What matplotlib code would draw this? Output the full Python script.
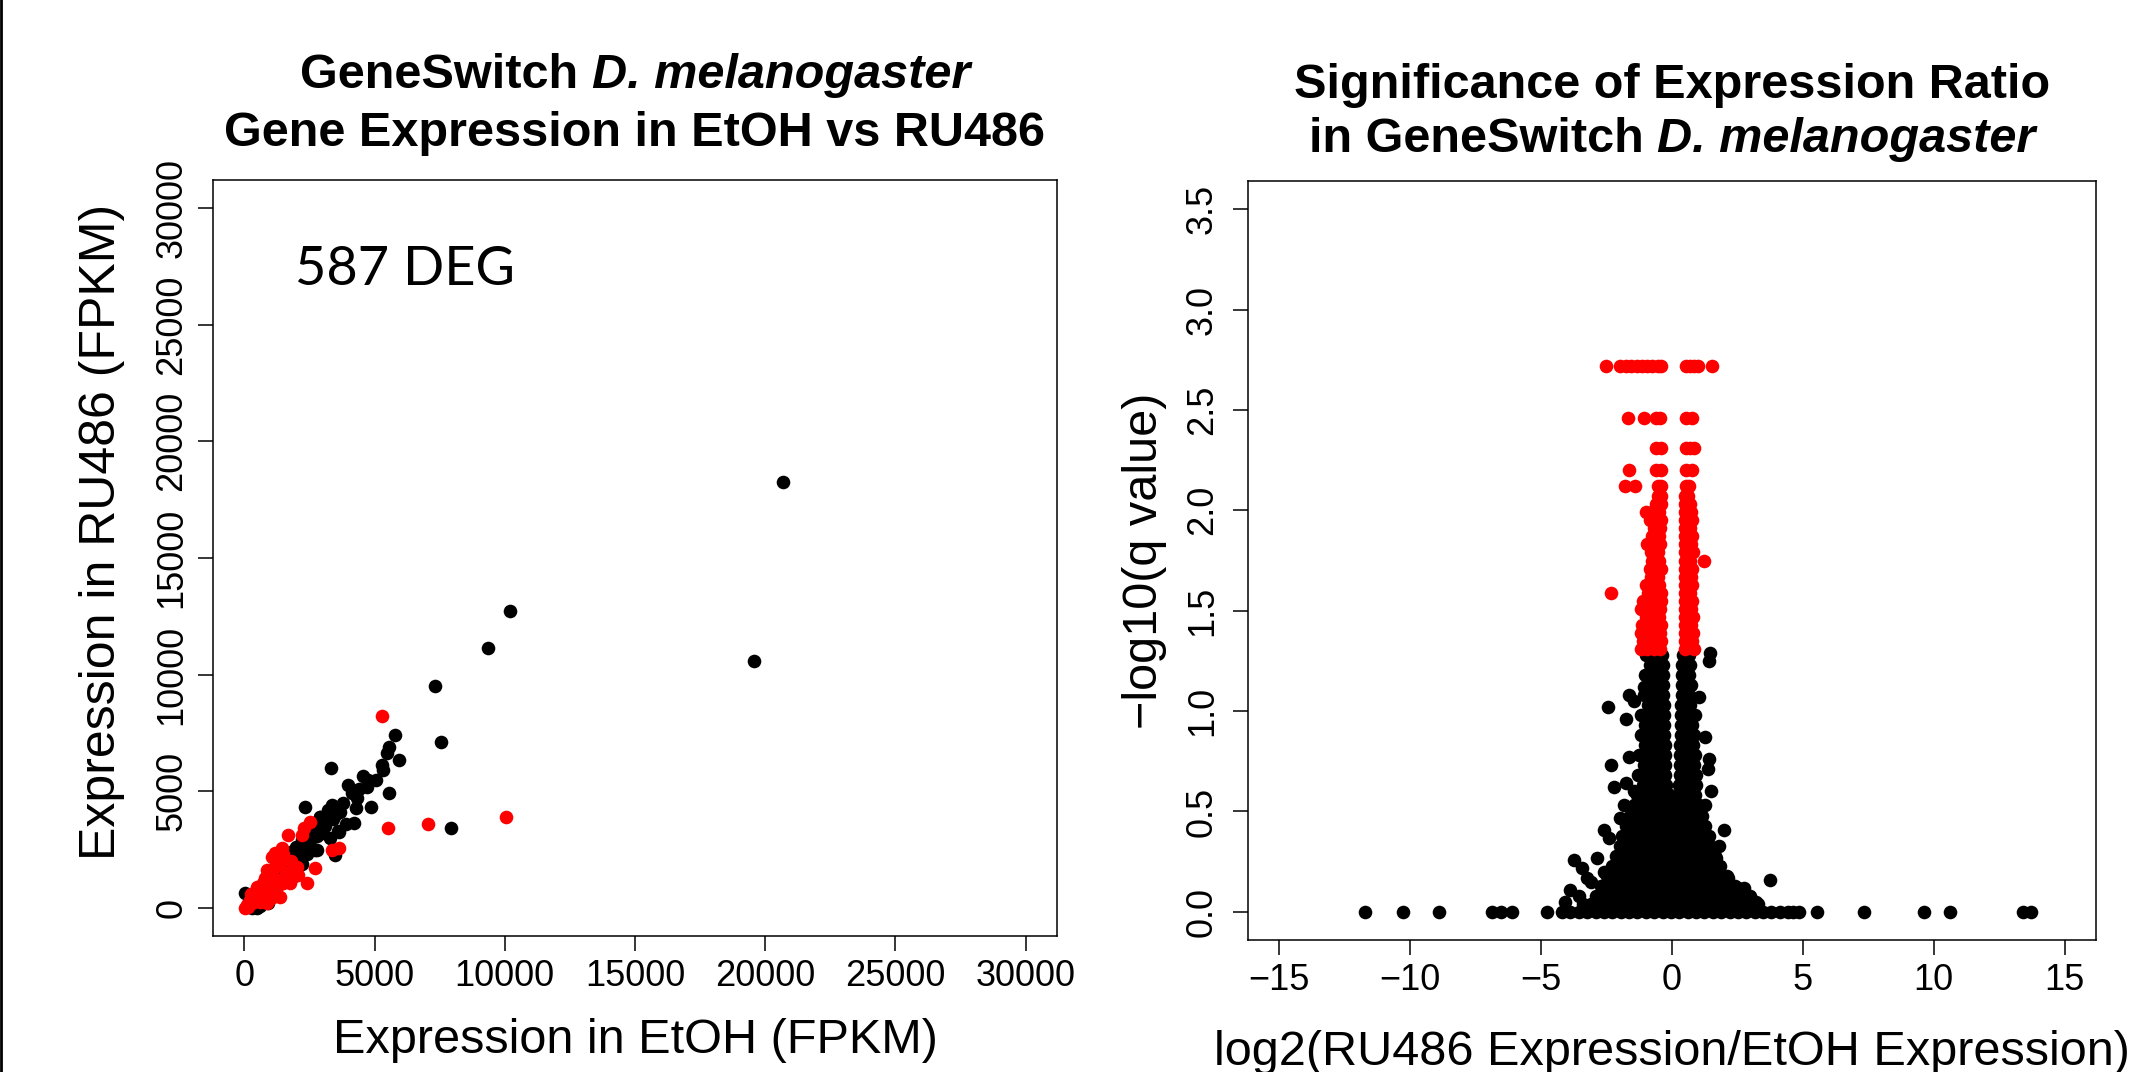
import matplotlib
matplotlib.use('Agg')
import matplotlib.pyplot as plt
from matplotlib.lines import Line2D

plt.rcParams['font.family'] = ['Liberation Sans', 'DejaVu Sans']

# ---- left panel: FPKM in EtOH vs RU486 (x, y) ----
left_black = [
    (20700, 18250), (19560, 10570), (10200, 12730), (9340, 11160), (7330, 9520),
    (7550, 7100), (7935, 3410), (5785, 7415), (5555, 6914), (5466, 6631),
    (5939, 6344), (5274, 6129), (5313, 5915), (3317, 5987), (4568, 5658),
    (5044, 5486), (4699, 5200), (3993, 5272), (4123, 4916), (4315, 4702),
    (5555, 4916), (4276, 4273), (4852, 4316), (2342, 4316), (3355, 4415),
    (3674, 4128), (4223, 3657), (3647, 3270), (3800, 4500), (3500, 4000),
    (3100, 3700), (4400, 5100), (4750, 5500), (2900, 3900), (3200, 4200),
    (2700, 3400), (3000, 3200), (3300, 3000), (3480, 2270), (2776, 2486),
    (2906, 3914), (2600, 3600), (2400, 3300), (2200, 2900), (2000, 2600),
    (1800, 2400), (1600, 2100), (1400, 1800), (1200, 1500), (1000, 1200),
    (800, 1000), (600, 800), (400, 500), (200, 300), (100, 100), (300, 0),
    (600, 100), (900, 200), (500, 0), (20, 650), (2500, 2800), (2800, 3100),
    (3100, 3500), (2300, 2500), (2100, 2200), (1900, 2000), (3400, 3800),
    (3600, 3300), (3900, 3600), (2650, 2550), (700, 300), (2400, 2300),
    (2700, 2500), (2200, 1900), (1900, 1600),
]
left_red = [
    (5274, 8230), (5528, 3442), (7040, 3586), (10046, 3900), (2522, 3700),
    (2300, 3450), (2202, 3129), (1689, 3129), (1435, 2559), (1179, 2345),
    (3355, 2486), (3647, 2559), (2714, 1702), (2395, 1059), (1881, 1342),
    (2073, 1414), (859, 1629), (987, 1343), (731, 1057), (603, 771),
    (475, 486), (219, 343), (91, 129), (20, 0), (1243, 914), (1499, 1057),
    (1115, 486), (859, 200), (1627, 1200), (603, 271), (1371, 1914),
    (1051, 2200), (2011, 1771), (1755, 1057), (1371, 486), (400, 700),
    (700, 500), (1000, 800), (300, 200), (150, 50), (500, 900), (1300, 1200),
    (800, 1300), (1600, 1500), (1150, 1700), (1800, 2000), (950, 350),
    (250, 600), (1250, 1900), (1500, 2300),
]
deg_count = 587

# ---- right panel: volcano, log2 ratio vs -log10(q) ----
# dense non-significant core, one row per -log10(q) level
core_rows = [
    (1.28, [-1.00, -0.68, -0.37, 0.41, 0.65]),
    (1.23, [-0.85, -0.55, -0.36, 0.40, 0.70]),
    (1.18, [-1.02, -0.70, -0.35, 0.39, 0.66]),
    (1.13, [-0.88, -0.58, -0.34, 0.38, 0.72]),
    (1.08, [-1.08, -0.76, -0.45, -0.33, 0.37, 0.64]),
    (1.03, [-0.92, -0.62, -0.32, 0.36, 0.70]),
    (0.98, [-1.18, -0.86, -0.56, -0.31, 0.35, 0.62, 0.80]),
    (0.93, [-1.02, -0.70, -0.30, 0.34, 0.58, 0.78]),
    (0.88, [-1.20, -0.88, -0.57, -0.29, 0.33, 0.62, 0.84]),
    (0.83, [-1.05, -0.74, -0.45, -0.28, 0.32, 0.55, 0.82]),
    (0.78, [-1.25, -0.92, -0.60, -0.27, 0.31, 0.60, 0.88]),
    (0.73, [-1.08, -0.78, -0.48, -0.26, 0.30, 0.56, 0.85]),
    (0.68, [-1.28, -0.96, -0.64, -0.25, 0.29, 0.60, 0.92]),
    (0.63, [-1.12, -0.80, -0.50, -0.24, 0.28, 0.55, 0.90]),
    (0.58, [-1.35, -1.03, -0.71, -0.39, -0.07, 0.25, 0.57, 0.89]),
    (0.53, [-1.45, -1.15, -0.85, -0.55, -0.23, 0.09, 0.41, 0.73, 1.05]),
    (0.48, [-1.60, -1.28, -0.96, -0.64, -0.32, 0.00, 0.32, 0.64, 0.96, 1.15]),
    (0.43, [-1.75, -1.43, -1.11, -0.79, -0.47, -0.15, 0.17, 0.49, 0.81, 1.13, 1.25]),
    (0.38, [-1.90, -1.58, -1.26, -0.94, -0.62, -0.30, 0.02, 0.34, 0.66, 0.98, 1.30, 1.40]),
    (0.33, [-2.00, -1.70, -1.40, -1.10, -0.78, -0.46, -0.14, 0.18, 0.50, 0.82, 1.14, 1.46]),
    (0.28, [-2.15, -1.83, -1.51, -1.19, -0.87, -0.55, -0.23, 0.09, 0.41, 0.73, 1.05,
            1.37, 1.65]),
    (0.23, [-2.30, -1.98, -1.66, -1.34, -1.02, -0.70, -0.38, -0.06, 0.26, 0.58, 0.90,
            1.22, 1.54, 1.85]),
    (0.18, [-2.50, -2.18, -1.86, -1.54, -1.22, -0.90, -0.58, -0.26, 0.06, 0.38, 0.70,
            1.02, 1.34, 1.66, 1.98, 2.10]),
    (0.13, [-2.70, -2.38, -2.06, -1.74, -1.42, -1.10, -0.78, -0.46, -0.14, 0.18, 0.50,
            0.82, 1.14, 1.46, 1.78, 2.10, 2.40]),
    (0.08, [-2.90, -2.58, -2.26, -1.94, -1.62, -1.30, -0.98, -0.66, -0.34, -0.02, 0.30,
            0.62, 0.94, 1.26, 1.58, 1.90, 2.22, 2.54, 2.75]),
    (0.04, [-3.40, -3.08, -2.76, -2.44, -2.12, -1.80, -1.48, -1.16, -0.84, -0.52, -0.20,
            0.12, 0.44, 0.76, 1.08, 1.40, 1.72, 2.04, 2.36, 2.68, 3.00, 3.30]),
    (0.00, [-11.72, -10.27, -8.90, -6.87, -6.55, -6.12, -4.79, -4.20, -3.88, -3.56,
            -3.24, -2.92, -2.60, -2.28, -1.96, -1.64, -1.32, -1.00, -0.68, -0.36,
            -0.04, 0.28, 0.60, 0.92, 1.24, 1.56, 1.88, 2.20, 2.52, 2.84, 3.16, 3.48,
            3.80, 4.12, 4.42, 4.62, 4.85, 5.54, 7.34, 9.61, 10.62, 13.41, 13.73]),
]
black_scatter = [
    (1.47, 1.29), (1.43, 1.25), (-1.66, 1.08), (-1.45, 1.05), (-2.44, 1.02),
    (-1.76, 0.96), (-1.06, 1.12), (1.05, 1.07), (1.25, 0.87), (0.87, 0.98),
    (-2.34, 0.73), (-1.64, 0.77), (1.43, 0.76), (1.36, 0.71), (-2.21, 0.62),
    (-1.76, 0.64), (-1.45, 0.60), (-1.82, 0.53), (1.50, 0.60), (1.25, 0.53),
    (-2.60, 0.41), (-2.40, 0.37), (-2.85, 0.27), (-3.74, 0.26), (-3.42, 0.22),
    (-3.23, 0.17), (-3.10, 0.15), (-3.88, 0.11), (-3.56, 0.08), (2.00, 0.41),
    (1.68, 0.27), (2.13, 0.17), (2.51, 0.12), (2.77, 0.12), (3.73, 0.16),
    (2.97, 0.08), (-2.00, 0.47), (1.80, 0.33), (-2.60, 0.20), (3.20, 0.05),
    (-4.10, 0.05),
]
# significant genes (q < 0.05)
red_rows = [
    (2.72, [-2.53, -1.97, -1.75, -1.55, -1.35, -1.15, -0.95, -0.75, -0.55, -0.43,
            0.52, 0.68, 0.84, 1.00, 1.52]),
    (2.46, [-1.68, -1.06, -0.62, -0.45, 0.52, 0.76]),
    (2.31, [-0.63, -0.42, 0.52, 0.70, 0.84]),
    (2.20, [-1.64, -0.60, -0.42, 0.53, 0.76]),
    (2.12, [-1.79, -1.42, -0.55, -0.43, 0.52, 0.64]),
    (2.07, [-0.55, -0.43, 0.50, 0.62]),
    (2.03, [-0.60, -0.43, 0.50, 0.70]),
    (1.99, [-1.00, -0.75, -0.50, 0.48, 0.72]),
    (1.95, [-0.85, -0.60, -0.43, 0.50, 0.75]),
    (1.91, [-0.70, -0.45, 0.48, 0.70]),
    (1.87, [-0.75, -0.50, 0.50, 0.78]),
    (1.83, [-0.95, -0.70, -0.45, 0.48, 0.72]),
    (1.79, [-0.80, -0.55, 0.50, 0.80]),
    (1.75, [-0.75, -0.50, 0.48, 0.70, 1.24]),
    (1.71, [-0.85, -0.60, -0.43, 0.50, 0.78]),
    (1.67, [-0.80, -0.55, 0.48, 0.72]),
    (1.63, [-1.00, -0.75, -0.50, 0.50, 0.75]),
    (1.59, [-2.34, -0.90, -0.65, -0.43, 0.48, 0.70]),
    (1.55, [-1.10, -0.85, -0.60, -0.43, 0.50, 0.78]),
    (1.51, [-1.20, -0.95, -0.70, -0.45, 0.48, 0.72]),
    (1.47, [-1.00, -0.75, -0.50, 0.50, 0.80]),
    (1.43, [-1.15, -0.90, -0.65, -0.43, 0.48, 0.72]),
    (1.39, [-1.20, -0.95, -0.70, -0.45, 0.50, 0.80]),
    (1.35, [-1.10, -0.85, -0.60, -0.43, 0.48, 0.75]),
    (1.31, [-1.20, -0.95, -0.70, -0.45, 0.50, 0.85]),
]

W, H = 2130, 1072
fig = plt.figure(figsize=(W / 100, H / 100), dpi=100)
ax1 = fig.add_axes([213 / W, 1 - 936 / H, 844 / W, 756 / H])
ax2 = fig.add_axes([1248 / W, 1 - 940 / H, 848 / W, 759 / H])

ms = 9.8
TICK = 26
LAB = 35

# left scatter
ax1.plot([p[0] for p in left_black], [p[1] for p in left_black], 'o',
         color='black', ms=ms, mew=0)
ax1.plot([p[0] for p in left_red], [p[1] for p in left_red], 'o',
         color='red', ms=ms, mew=0)
ax1.set_xlim(-1200, 31200)
ax1.set_ylim(-1200, 31200)
ax1.set_xticks(range(0, 30001, 5000))
ax1.set_yticks(range(0, 30001, 5000))
ax1.text(1950, 26700, f'{deg_count} DEG', fontfamily=['Lato', 'DejaVu Sans'],
         fontsize=39, ha='left', va='baseline')
ax1.set_xlabel('Expression in EtOH (FPKM)', fontsize=LAB)
ax1.set_ylabel('Expression in RU486 (FPKM)', fontsize=36)

# right volcano
bx = [x for y, xs in core_rows for x in xs] + [p[0] for p in black_scatter]
by = [y for y, xs in core_rows for x in xs] + [p[1] for p in black_scatter]
rx = [x for y, xs in red_rows for x in xs]
ry = [y for y, xs in red_rows for x in xs]
ax2.plot(bx, by, 'o', color='black', ms=ms, mew=0)
ax2.plot(rx, ry, 'o', color='red', ms=ms, mew=0)
ax2.set_xlim(-16.2, 16.2)
ax2.set_ylim(-0.14, 3.64)
ax2.set_xticks(range(-15, 16, 5))
yt = [0.0, 0.5, 1.0, 1.5, 2.0, 2.5, 3.0, 3.5]
ax2.set_yticks(yt)
ax2.set_yticklabels([f'{v:.1f}' for v in yt])
ax2.set_xlabel('log2(RU486 Expression/EtOH Expression)', fontsize=LAB)
ax2.set_ylabel('\u2212log10(q value)', fontsize=LAB)

for ax, ypad in ((ax1, 6.3), (ax2, 9.5)):
    for s in ax.spines.values():
        s.set_linewidth(1.1)
    ax.tick_params(axis='both', direction='out', length=10.8, width=1.1,
                   labelsize=TICK)
    ax.tick_params(axis='x', pad=6)
    ax.tick_params(axis='y', labelrotation=90, pad=ypad)
    plt.setp(ax.get_yticklabels(), va='center')

ax1.xaxis.set_label_coords(0.5, -0.1376)
ax1.xaxis.label.set_va('center')
ax1.yaxis.set_label_coords(-0.1315, 0.535)
ax1.yaxis.label.set_va('center')
ax2.xaxis.set_label_coords(0.5, -0.1476)
ax2.xaxis.label.set_va('center')
ax2.yaxis.set_label_coords(-0.1215, 0.5)
ax2.yaxis.label.set_va('center')

# titles with an italic species name, centred over each panel
renderer = fig.canvas.get_renderer()


def title_line(cx_px, base_px, parts, size=35):
    texts, widths = [], []
    for s, style in parts:
        t = fig.text(0, 1 - base_px / H, s, fontsize=size, fontweight='bold',
                     fontstyle=style, ha='left', va='baseline')
        texts.append(t)
        widths.append(t.get_window_extent(renderer).width / W)
    x = cx_px / W - sum(widths) / 2
    for t, w in zip(texts, widths):
        t.set_x(x)
        x += w


title_line(635, 88, [('GeneSwitch ', 'normal'), ('D. melanogaster', 'italic')])
title_line(635, 146, [('Gene Expression in EtOH vs RU486', 'normal')])
title_line(1672, 98, [('Significance of Expression Ratio', 'normal')])
title_line(1672, 152, [('in GeneSwitch ', 'normal'), ('D. melanogaster', 'italic')])

# dark edge along the left border of the picture
fig.add_artist(Line2D([1.4 / W, 1.4 / W], [0, 1], transform=fig.transFigure,
                      color='black', lw=2.0))

fig.savefig('out.png', dpi=100)
